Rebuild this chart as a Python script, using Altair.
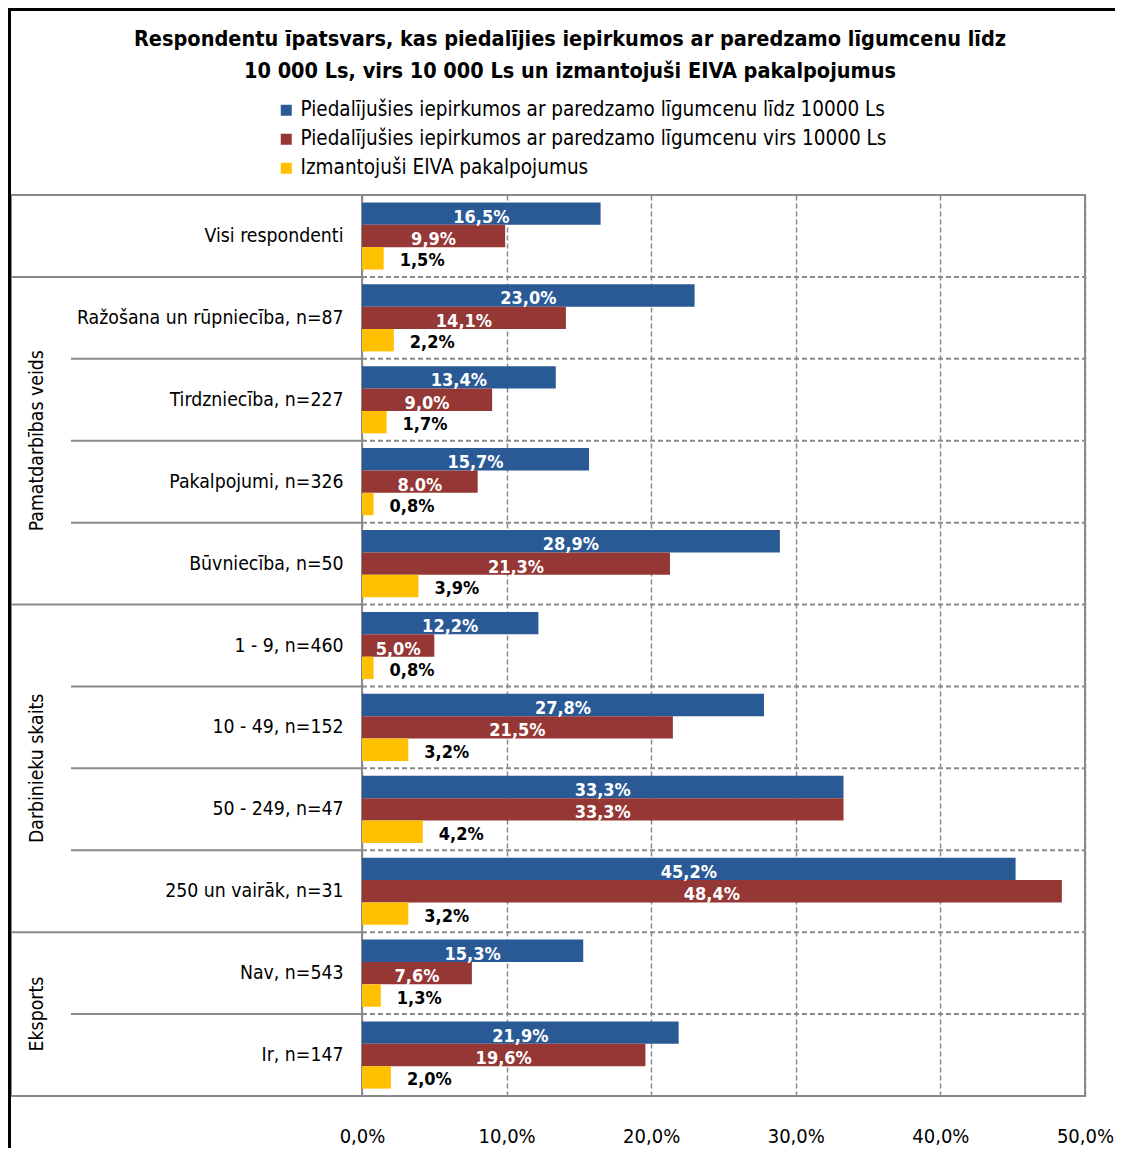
import altair as alt
import pandas as pd

# ---------------- data ----------------
categories = [
    "Visi respondenti",
    "Ražošana un rūpniecība, n=87",
    "Tirdzniecība, n=227",
    "Pakalpojumi, n=326",
    "Būvniecība, n=50",
    "1 - 9, n=460",
    "10 - 49, n=152",
    "50 - 249, n=47",
    "250 un vairāk, n=31",
    "Nav, n=543",
    "Ir, n=147",
]
series = [
    "Piedalījušies iepirkumos ar paredzamo līgumcenu līdz 10000 Ls",
    "Piedalījušies iepirkumos ar paredzamo līgumcenu virs 10000 Ls",
    "Izmantojuši EIVA pakalpojumus",
]
blue_vals = [16.5, 23.0, 13.4, 15.7, 28.9, 12.2, 27.8, 33.3, 45.2, 15.3, 21.9]
red_vals = [9.9, 14.1, 9.0, 8.0, 21.3, 5.0, 21.5, 33.3, 48.4, 7.6, 19.6]
yellow_vals = [1.5, 2.2, 1.7, 0.8, 3.9, 0.8, 3.2, 4.2, 3.2, 1.3, 2.0]
groups = [("", 1), ("Pamatdarbības veids", 4), ("Darbinieku skaits", 4), ("Eksports", 2)]
x_ticks = [0, 10, 20, 30, 40, 50]
label_overrides = {("Pakalpojumi, n=326", 1): "8.0%"}
title_lines = [
    "Respondentu īpatsvars, kas piedalījies iepirkumos ar paredzamo līgumcenu līdz",
    "10 000 Ls, virs 10 000 Ls un izmantojuši EIVA pakalpojumus",
]

# ---------------- styles ----------------
colors = ["#2A5A96", "#953735", "#FFC000"]
GRAY = "#8A8A8A"
FONT = "DejaVu Sans Condensed, Liberation Sans Narrow, sans-serif"
W, H = 723, 901
LEG = 20.5
LBL = 19.3
VAL = 18

rows = []
for si, vals in enumerate([blue_vals, red_vals, yellow_vals]):
    for cat, v in zip(categories, vals):
        lab = label_overrides.get((cat, si), f"{v:.1f}".replace(".", ",") + "%")
        rows.append({"category": cat, "series": series[si], "value": v, "label": lab})
df = pd.DataFrame(rows)

sep_rows, glabel_rows = [], []
start = 0
for name, count in groups:
    for k in range(count):
        idx = start + k
        if idx == 0:
            continue
        sep_rows.append({"category": categories[idx], "kind": "group" if k == 0 else "inner"})
    if name:
        glabel_rows.append({"category": categories[start + count // 2], "group": name})
    start += count
sep_df = pd.DataFrame(sep_rows)
glabel_df = pd.DataFrame(glabel_rows)
one = pd.DataFrame({"k": [0]})

y_scale = alt.Scale(domain=categories, paddingInner=0, paddingOuter=0)
y_axis = alt.Axis(
    title=None, ticks=False, domain=False, grid=False, labelFontSize=LBL,
    labelPadding=19, labelLimit=500, labelColor="black", labelFont=FONT, bandPosition=0.5,
)


def yband(bp):
    return alt.Y("category:N", sort=categories, scale=y_scale, axis=y_axis, bandPosition=bp)


# separators and frame
sep_plot = alt.Chart(sep_df).mark_rule(color=GRAY, strokeWidth=2, strokeDash=[5, 3]).encode(
    y=yband(0), x=alt.value(0), x2=alt.value(W)
)
sep_group = alt.Chart(sep_df).transform_filter(alt.datum.kind == "group").mark_rule(
    color=GRAY, strokeWidth=2
).encode(y=yband(0), x=alt.value(-351), x2=alt.value(0))
sep_inner = alt.Chart(sep_df).transform_filter(alt.datum.kind == "inner").mark_rule(
    color=GRAY, strokeWidth=2
).encode(y=yband(0), x=alt.value(-291), x2=alt.value(0))
frame_top = alt.Chart(pd.DataFrame({"category": [categories[0]]})).mark_rule(
    color=GRAY, strokeWidth=2
).encode(y=yband(0), x=alt.value(-351), x2=alt.value(W))
frame_bot = alt.Chart(pd.DataFrame({"category": [categories[-1]]})).mark_rule(
    color=GRAY, strokeWidth=2
).encode(y=yband(1), x=alt.value(-351), x2=alt.value(W))
frame_left = alt.Chart(one).mark_rule(color=GRAY, strokeWidth=2).encode(
    x=alt.value(-351), y=alt.value(0), y2=alt.value(H)
)
outer_left = alt.Chart(one).mark_rule(color="black", strokeWidth=4).encode(
    x=alt.value(-353), y=alt.value(-190), y2=alt.value(H + 80)
)
outer_top = alt.Chart(one).mark_rule(color="black", strokeWidth=3).encode(
    y=alt.value(-185.5), x=alt.value(-356), x2=alt.value(W + 60)
)

title = alt.Chart(one).mark_text(
    text=title_lines, fontSize=21.5, fontWeight="bold", font=FONT, color="black",
    align="center", baseline="alphabetic", lineHeight=32,
).encode(x=alt.value(208), y=alt.value(-149))

x_main = alt.X(
    "value:Q",
    scale=alt.Scale(domain=[0, 50], nice=False),
    axis=alt.Axis(
        title=None, values=x_ticks,
        labelExpr="replace(format(datum.value, '.1f'), '.', ',') + '%'",
        ticks=False, domain=False, grid=True, gridDash=[5, 3], gridColor=GRAY,
        gridWidth=1.5, labelFontSize=20, labelPadding=30, labelFlush=False,
        labelOverlap=False, labelColor="black", labelFont=FONT,
    ),
)
y_off = alt.YOffset(
    "series:N", sort=series, scale=alt.Scale(domain=series, paddingOuter=0.33, paddingInner=0)
)

bars = alt.Chart(df).mark_bar().encode(
    x=x_main,
    y=alt.Y("category:N", sort=categories, scale=y_scale, axis=y_axis),
    yOffset=y_off,
    color=alt.Color(
        "series:N",
        scale=alt.Scale(domain=series, range=colors),
        legend=alt.Legend(
            title=None, orient="none", legendX=-86, legendY=-95, labelFontSize=LEG,
            labelFont=FONT, labelColor="black", symbolType="square", symbolSize=121,
            symbolStrokeWidth=0, rowPadding=8, labelOffset=4, labelLimit=900, padding=0,
        ),
    ),
)

inner_text = (
    alt.Chart(df)
    .transform_filter(alt.FieldOneOfPredicate(field="series", oneOf=series[:2]))
    .transform_calculate(mid="datum.value / 2")
    .mark_text(color="white", fontWeight="bold", fontSize=VAL, baseline="alphabetic", dy=9, font=FONT)
    .encode(
        x=alt.X("mid:Q", scale=alt.Scale(domain=[0, 50], nice=False)),
        y=alt.Y("category:N", sort=categories, scale=y_scale, axis=y_axis),
        yOffset=y_off,
        text="label:N",
    )
)
outer_text = (
    alt.Chart(df)
    .transform_filter(alt.FieldEqualPredicate(field="series", equal=series[2]))
    .mark_text(color="black", fontWeight="bold", fontSize=VAL, baseline="alphabetic", dy=8, dx=16,
               align="left", font=FONT)
    .encode(
        x=alt.X("value:Q", scale=alt.Scale(domain=[0, 50], nice=False)),
        y=alt.Y("category:N", sort=categories, scale=y_scale, axis=y_axis),
        yOffset=y_off,
        text="label:N",
    )
)

glabels = alt.Chart(glabel_df).mark_text(
    angle=270, fontSize=LBL, align="center", baseline="middle", color="black", font=FONT
).encode(y=yband(0), x=alt.value(-325), text="group:N")

chart = (
    alt.layer(
        sep_plot, sep_group, sep_inner, frame_top, frame_bot, frame_left,
        bars, inner_text, outer_text, glabels, outer_left, outer_top, title,
    )
    .properties(
        width=W,
        height=H,
        autosize=alt.AutoSizeParams(type="none"),
        padding={"left": 354, "top": 187, "right": 30, "bottom": 52},
    )
    .configure(font=FONT, background="white")
    .configure_view(stroke=GRAY, strokeWidth=2)
)

chart.save("out.html", embed_options={"renderer": "svg", "actions": False})
